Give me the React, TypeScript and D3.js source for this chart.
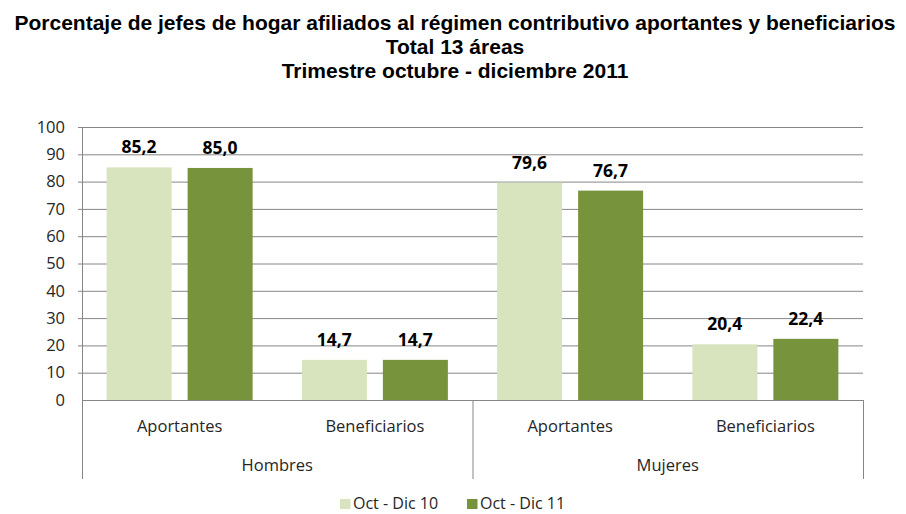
import React, { useEffect, useRef } from "react";
import * as d3 from "d3";

const groups = ["Hombres", "Mujeres"];
const categories = ["Hombres|Aportantes", "Hombres|Beneficiarios", "Mujeres|Aportantes", "Mujeres|Beneficiarios"];
const seriesNames = ["Oct - Dic 10", "Oct - Dic 11"];
const octDic10 = [85.2, 14.7, 79.6, 20.4];
const octDic11 = [85.0, 14.7, 76.7, 22.4];
const yTicks = [0, 10, 20, 30, 40, 50, 60, 70, 80, 90, 100];
const titleLines = [
  "Porcentaje de jefes de hogar afiliados al régimen contributivo aportantes y beneficiarios",
  "Total 13 áreas",
  "Trimestre octubre - diciembre 2011",
];
const colors = ["#D7E4BD", "#77933C"];

export default function App() {
  const ref = useRef<SVGSVGElement>(null);
  useEffect(() => {
    const svg = d3.select(ref.current);
    svg.selectAll("*").remove();
    const W = 906, H = 514;
    const left = 82, right = 863, top = 127, bottom = 400;
    const font = "'Open Sans', sans-serif";

    const y = d3.scaleLinear().domain([0, 100]).range([bottom, top]);
    const x0 = d3.scaleBand().domain(categories).range([left, right]).paddingInner(0).paddingOuter(0);
    const x1 = d3.scaleBand().domain(seriesNames).range([0, x0.bandwidth()]).paddingInner(0.1975).paddingOuter(0.304);

    svg.append("rect").attr("width", W).attr("height", H).attr("fill", "white");

    // title
    const tt = svg.append("g");
    titleLines.forEach((t, i) => {
      tt.append("text")
        .attr("x", 455).attr("y", 30 + i * 24)
        .attr("text-anchor", "middle")
        .attr("font-family", "'Liberation Sans', Arial, sans-serif")
        .attr("font-weight", "bold")
        .attr("font-size", 21)
        .text(t);
    });

    // gridlines
    svg.append("g").selectAll("line").data(yTicks.filter(d => d > 0)).join("line")
      .attr("x1", left - 4).attr("x2", right)
      .attr("y1", d => y(d) + 0.5).attr("y2", d => y(d) + 0.5)
      .attr("stroke", "#868686").attr("stroke-width", 1);

    // y tick labels
    svg.append("g").selectAll("text").data(yTicks).join("text")
      .attr("x", 65).attr("y", d => y(d)).attr("dy", "0.35em")
      .attr("text-anchor", "end")
      .attr("font-family", font).attr("font-size", 16.5).attr("fill", "#262626")
      .text(d => d);

    // bars
    const series = [octDic10, octDic11];
    series.forEach((vals, si) => {
      svg.append("g").selectAll("rect").data(vals).join("rect")
        .attr("x", (d, i) => x0(categories[i])! + x1(seriesNames[si])!)
        .attr("width", x1.bandwidth())
        .attr("y", d => y(d))
        .attr("height", d => bottom - y(d))
        .attr("fill", colors[si]);
      svg.append("g").selectAll("text").data(vals).join("text")
        .attr("x", (d, i) => x0(categories[i])! + x1(seriesNames[si])! + x1.bandwidth() / 2)
        .attr("y", d => y(d) - 14)
        .attr("text-anchor", "middle")
        .attr("font-family", font).attr("font-weight", "bold").attr("font-size", 17.5)
        .attr("fill", "#000")
        .text(d => d3.format(".1f")(d).replace(".", ","));
    });

    // x axis line
    svg.append("line").attr("x1", left).attr("x2", right).attr("y1", bottom + 0.5).attr("y2", bottom + 0.5)
      .attr("stroke", "#868686");
    // vertical axis lines
    svg.append("line").attr("x1", left + 0.5).attr("x2", left + 0.5).attr("y1", top).attr("y2", 479)
      .attr("stroke", "#868686");
    const gw = (right - left) / groups.length;
    groups.forEach((g, gi) => {
      const xr = left + gw * (gi + 1);
      svg.append("line").attr("x1", xr + 0.5).attr("x2", xr + 0.5).attr("y1", bottom).attr("y2", 479)
        .attr("stroke", "#868686");
      svg.append("text").attr("x", left + gw * gi + gw / 2).attr("y", 471)
        .attr("text-anchor", "middle").attr("font-family", font).attr("font-size", 16.5).attr("fill", "#262626")
        .text(g);
    });
    categories.forEach((c) => {
      const sub = c.split("|")[1];
      svg.append("text").attr("x", x0(c)! + x0.bandwidth() / 2).attr("y", 432)
        .attr("text-anchor", "middle").attr("font-family", font).attr("font-size", 16.5).attr("fill", "#262626")
        .text(sub);
    });

    // legend
    const lg = svg.append("g");
    const legendX = [340, 467];
    seriesNames.forEach((s, i) => {
      lg.append("rect").attr("x", legendX[i]).attr("y", 499).attr("width", 10.5).attr("height", 10).attr("fill", colors[i]);
      lg.append("text").attr("x", legendX[i] + 13).attr("y", 509)
        .attr("font-family", font).attr("font-size", 16).attr("fill", "#262626").text(s);
    });
  }, []);
  return (
    <svg ref={ref} width={906} height={514} style={{ position: "absolute", left: 0, top: 0, display: "block" }} />
  );
}
